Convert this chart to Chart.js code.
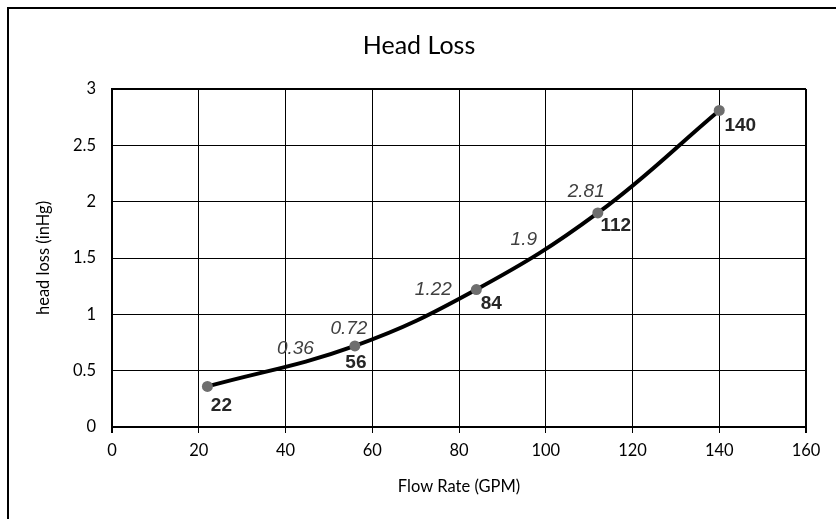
<!DOCTYPE html>
<html>
<head>
<meta charset="utf-8">
<script src="https://cdn.jsdelivr.net/npm/chart.js@4/dist/chart.umd.min.js"></script>
<style>
  html, body { margin: 0; padding: 0; background: #fff; }
  #wrap { width: 836px; height: 519px; }
</style>
</head>
<body>
<div id="wrap"><canvas id="headLossChart" width="836" height="519"></canvas></div>
<script>
const flowRates = [22, 56, 84, 112, 140];
const headLoss = [0.36, 0.72, 1.22, 1.9, 2.81];
const xTicks = [0, 20, 40, 60, 80, 100, 120, 140, 160];
const yTicks = [0, 0.5, 1, 1.5, 2, 2.5, 3];

// label nudges in px, relative to each point (the labels were dragged by hand)
const boldOffsets = [[14, 19], [1, 17], [15, 14], [18, 13], [21, 15]];
const italicOffsets = [[88, -38], [-6, -17], [-43, 0], [-74, 27], [-133, 81]];

const sans = "'Lato', 'Open Sans', sans-serif";
const arial = "'Liberation Sans', Arial, sans-serif";

const frame = {
    id: 'frame',
    beforeDraw(chart) {
        const c = chart.ctx;
        c.save();
        c.strokeStyle = '#000';
        c.lineWidth = 2;
        c.strokeRect(8, 8, 900, 600);
        c.restore();
    },
    afterLayout(chart) {
        // the title sits over the whole frame, not the plot
        const t = chart.titleBlock;
        if (t) { t.left = 8; t.right = 830; }
    }
};

const pointLabels = {
    id: 'pointLabels',
    afterDatasetsDraw(chart) {
        const c = chart.ctx;
        const pts = chart.getDatasetMeta(0).data;
        c.save();
        c.textAlign = 'center';
        c.textBaseline = 'middle';
        pts.forEach((p, i) => {
            c.font = 'bold 19px ' + arial;
            c.fillStyle = '#262626';
            c.fillText(String(flowRates[i]), p.x + boldOffsets[i][0], p.y + boldOffsets[i][1]);
            c.font = 'italic 19px ' + arial;
            c.fillStyle = '#404040';
            c.fillText(String(headLoss[i]), p.x + italicOffsets[i][0], p.y + italicOffsets[i][1]);
        });
        c.restore();
    }
};

const edgeWidth = (ctx, n) => (ctx.index === 0 || ctx.index === n - 1) ? 2 : 1;

new Chart(document.getElementById('headLossChart'), {
    type: 'scatter',
    data: {
        datasets: [{
            data: flowRates.map((x, i) => ({ x: x, y: headLoss[i] })),
            showLine: true,
            borderColor: '#000',
            borderWidth: 4,
            tension: 0.4,
            pointRadius: 5.5,
            pointBackgroundColor: '#6e6e6e',
            pointBorderWidth: 0
        }]
    },
    options: {
        responsive: false,
        animation: false,
        layout: { padding: { left: 8, top: 8, right: 30, bottom: 0 } },
        plugins: {
            legend: { display: false },
            tooltip: { enabled: false },
            title: {
                display: true,
                text: 'Head Loss',
                color: '#000',
                font: { family: sans, size: 25, weight: 'normal', lineHeight: 1.2 },
                padding: { top: 23, bottom: 28 }
            }
        },
        scales: {
            x: {
                type: 'linear',
                min: 0,
                max: 160,
                afterBuildTicks: s => { s.ticks = xTicks.map(v => ({ value: v })); },
                afterFit: s => { s.height = 92; },
                grid: { color: '#000', lineWidth: ctx => edgeWidth(ctx, xTicks.length), tickLength: 6, tickColor: '#000' },
                border: { color: '#000', width: 2 },
                ticks: { color: '#000', font: { family: sans, size: 16.5 }, padding: 8, maxRotation: 0 },
                title: { display: true, text: 'Flow Rate (GPM)', color: '#000', font: { family: sans, size: 16.5 }, padding: { top: 0, bottom: 22 } }
            },
            y: {
                min: 0,
                max: 3,
                afterBuildTicks: s => { s.ticks = yTicks.map(v => ({ value: v })); },
                afterFit: s => { s.width = 104; },
                grid: { color: '#000', lineWidth: ctx => edgeWidth(ctx, yTicks.length), drawTicks: false },
                border: { color: '#000', width: 2 },
                ticks: { color: '#000', font: { family: sans, size: 16.5 }, padding: 16, callback: v => String(v) },
                title: { display: true, text: 'head loss (inHg)', color: '#000', font: { family: sans, size: 16.5 }, padding: { top: 26, bottom: 0 } }
            }
        }
    },
    plugins: [frame, pointLabels]
});
</script>
</body>
</html>
